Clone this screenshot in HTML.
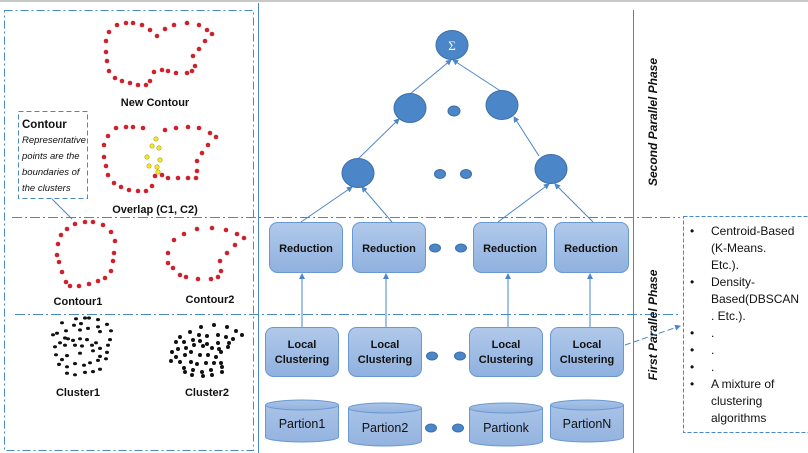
<!DOCTYPE html>
<html><head><meta charset="utf-8"><style>
html,body{margin:0;padding:0;background:#fff;}
svg{display:block;font-family:"Liberation Sans",sans-serif;}
.b{font-weight:bold;font-size:11px;fill:#111;}
.bx{fill:url(#g);stroke:#6a98d0;stroke-width:1;}
.cl{fill:url(#g2);stroke:#6a98d0;}
.c{fill:#4a86c8;stroke:#3c6fa8;stroke-width:1;}
.ln{stroke:#4a86c8;stroke-width:1;fill:none;}
.r{fill:#d0202a;}
.y{fill:#f1ea20;stroke:#a9a020;stroke-width:0.6;}
.k{fill:#111;}
.t{font-size:12.5px;fill:#111;}
</style></head><body>
<svg width="808" height="453" viewBox="0 0 808 453" xmlns="http://www.w3.org/2000/svg">
<defs>
<linearGradient id="g" x1="0" y1="0" x2="0" y2="1"><stop offset="0" stop-color="#b1c9ea"/><stop offset="1" stop-color="#8fb1df"/></linearGradient>
<linearGradient id="g2" x1="0" y1="0" x2="0" y2="1"><stop offset="0" stop-color="#a9c3e7"/><stop offset="1" stop-color="#93b3df"/></linearGradient>
<marker id="a" markerWidth="6" markerHeight="6" refX="5" refY="3" orient="auto" markerUnits="userSpaceOnUse"><path d="M0,0 L6,3 L0,6 z" fill="#4a86c8"/></marker>
</defs>
<line x1="0" y1="1" x2="808" y2="1" stroke="#c8c8c8" stroke-width="2"/>
<rect x="4.5" y="10.5" width="249" height="440" fill="none" stroke="#4a86c8" stroke-dasharray="8,3,2,3" stroke-width="1"/>
<line x1="258.5" y1="3" x2="258.5" y2="453" stroke="#4a86c8"/>
<line x1="633.5" y1="10" x2="633.5" y2="453" stroke="#4a86c8"/>
<line x1="12" y1="217.5" x2="680" y2="217.5" stroke="#4a86c8" stroke-dasharray="10,3,2,3"/>
<line x1="15" y1="314.5" x2="680" y2="314.5" stroke="#4a86c8" stroke-dasharray="10,3,2,3"/>

<g class="r">
<circle cx="117" cy="25" r="2.3"/><circle cx="126" cy="23" r="2.3"/><circle cx="133" cy="23" r="2.3"/><circle cx="142" cy="25" r="2.3"/><circle cx="150" cy="30" r="2.3"/><circle cx="157" cy="36" r="2.3"/><circle cx="165" cy="29" r="2.3"/><circle cx="174" cy="25" r="2.3"/><circle cx="187" cy="23" r="2.3"/><circle cx="199" cy="25" r="2.3"/><circle cx="207" cy="30" r="2.3"/><circle cx="212" cy="34" r="2.3"/><circle cx="205" cy="41" r="2.3"/><circle cx="199" cy="49" r="2.3"/><circle cx="193" cy="56" r="2.3"/><circle cx="195" cy="66" r="2.3"/><circle cx="192" cy="71" r="2.3"/><circle cx="187" cy="73" r="2.3"/><circle cx="176" cy="73" r="2.3"/><circle cx="168" cy="71" r="2.3"/><circle cx="162" cy="70" r="2.3"/><circle cx="154" cy="72" r="2.3"/><circle cx="150" cy="81" r="2.3"/><circle cx="146" cy="85" r="2.3"/><circle cx="138" cy="85" r="2.3"/><circle cx="130" cy="83" r="2.3"/><circle cx="122" cy="81" r="2.3"/><circle cx="115" cy="78" r="2.3"/><circle cx="109" cy="71" r="2.3"/><circle cx="107" cy="61" r="2.3"/><circle cx="106" cy="52" r="2.3"/><circle cx="106" cy="41" r="2.3"/><circle cx="109" cy="32" r="2.3"/>
</g>
<text x="155" y="106" text-anchor="middle" class="b">New Contour</text>
<g class="r">
<circle cx="116" cy="128" r="2.3"/><circle cx="126" cy="127" r="2.3"/><circle cx="133" cy="127" r="2.3"/><circle cx="143" cy="128" r="2.3"/><circle cx="108" cy="136" r="2.3"/><circle cx="104" cy="145" r="2.3"/><circle cx="104" cy="157" r="2.3"/><circle cx="106" cy="166" r="2.3"/><circle cx="108" cy="175" r="2.3"/><circle cx="114" cy="183" r="2.3"/><circle cx="121" cy="187" r="2.3"/><circle cx="129" cy="190" r="2.3"/><circle cx="138" cy="191" r="2.3"/><circle cx="146" cy="191" r="2.3"/><circle cx="152" cy="186" r="2.3"/><circle cx="165" cy="130" r="2.3"/><circle cx="176" cy="128" r="2.3"/><circle cx="188" cy="127" r="2.3"/><circle cx="199" cy="128" r="2.3"/><circle cx="210" cy="133" r="2.3"/><circle cx="216" cy="137" r="2.3"/><circle cx="208" cy="145" r="2.3"/><circle cx="202" cy="153" r="2.3"/><circle cx="197" cy="161" r="2.3"/><circle cx="197" cy="171" r="2.3"/><circle cx="196" cy="178" r="2.3"/><circle cx="188" cy="178" r="2.3"/><circle cx="178" cy="178" r="2.3"/><circle cx="168" cy="178" r="2.3"/><circle cx="162" cy="175" r="2.3"/><circle cx="155" cy="176" r="2.3"/>
</g>
<g class="y">
<circle cx="156" cy="139" r="2.2"/><circle cx="152" cy="146" r="2.2"/><circle cx="159" cy="148" r="2.2"/><circle cx="147" cy="157" r="2.2"/><circle cx="160" cy="160" r="2.2"/><circle cx="149" cy="166" r="2.2"/><circle cx="157" cy="167" r="2.2"/><circle cx="158" cy="172" r="2.2"/>
</g>
<text x="155" y="213" text-anchor="middle" class="b">Overlap (C1, C2)</text>
<rect x="18.5" y="111.5" width="69" height="87" fill="#fff" stroke="#4a86c8" stroke-dasharray="5,3"/>
<line x1="52" y1="199" x2="72" y2="219" stroke="#4a86c8"/>
<text x="22" y="128" class="b" style="font-size:11.5px">Contour</text>
<g style="font-size:9.5px;font-style:italic;fill:#111">
<text x="22" y="143">Representative</text>
<text x="22" y="159">points are the</text>
<text x="22" y="175">boundaries of</text>
<text x="22" y="191">the clusters</text>
</g>
<g class="r">
<circle cx="75" cy="224" r="2.3"/><circle cx="85" cy="222" r="2.3"/><circle cx="93" cy="222" r="2.3"/><circle cx="103" cy="225" r="2.3"/><circle cx="111" cy="232" r="2.3"/><circle cx="115" cy="241" r="2.3"/><circle cx="114" cy="253" r="2.3"/><circle cx="113" cy="261" r="2.3"/><circle cx="111" cy="271" r="2.3"/><circle cx="105" cy="278" r="2.3"/><circle cx="98" cy="281" r="2.3"/><circle cx="89" cy="284" r="2.3"/><circle cx="79" cy="286" r="2.3"/><circle cx="70" cy="286" r="2.3"/><circle cx="66" cy="282" r="2.3"/><circle cx="62" cy="272" r="2.3"/><circle cx="59" cy="262" r="2.3"/><circle cx="57" cy="255" r="2.3"/><circle cx="58" cy="244" r="2.3"/><circle cx="61" cy="235" r="2.3"/><circle cx="67" cy="229" r="2.3"/>
<circle cx="174" cy="240" r="2.3"/><circle cx="184" cy="234" r="2.3"/><circle cx="197" cy="229" r="2.3"/><circle cx="212" cy="228" r="2.3"/><circle cx="226" cy="230" r="2.3"/><circle cx="237" cy="234" r="2.3"/><circle cx="244" cy="238" r="2.3"/><circle cx="235" cy="245" r="2.3"/><circle cx="227" cy="253" r="2.3"/><circle cx="220" cy="261" r="2.3"/><circle cx="221" cy="271" r="2.3"/><circle cx="218" cy="277" r="2.3"/><circle cx="211" cy="279" r="2.3"/><circle cx="198" cy="279" r="2.3"/><circle cx="186" cy="277" r="2.3"/><circle cx="180" cy="275" r="2.3"/><circle cx="173" cy="268" r="2.3"/><circle cx="168" cy="263" r="2.3"/><circle cx="168" cy="253" r="2.3"/>
</g>
<text x="78" y="305" text-anchor="middle" class="b">Contour1</text>
<text x="210" y="303" text-anchor="middle" class="b">Contour2</text>
<g class="k" transform="matrix(1,0,0,0.8,0,62.8)">
<circle cx="76" cy="320" r="2"/><circle cx="85" cy="319" r="2"/><circle cx="89" cy="319" r="2"/><circle cx="98" cy="321" r="2"/><circle cx="62" cy="325" r="2"/><circle cx="74" cy="328" r="2"/><circle cx="81" cy="326" r="2"/><circle cx="98" cy="330" r="2"/><circle cx="107" cy="327" r="2"/><circle cx="57" cy="338" r="2"/><circle cx="66" cy="335" r="2"/><circle cx="80" cy="334" r="2"/><circle cx="88" cy="332" r="2"/><circle cx="100" cy="336" r="2"/><circle cx="111" cy="335" r="2"/><circle cx="53" cy="340" r="2"/><circle cx="65" cy="344" r="2"/><circle cx="73" cy="347" r="2"/><circle cx="80" cy="345" r="2"/><circle cx="60" cy="350" r="2"/><circle cx="68" cy="345" r="2"/><circle cx="87" cy="346" r="2"/><circle cx="96" cy="350" r="2"/><circle cx="110" cy="346" r="2"/><circle cx="55" cy="355" r="2"/><circle cx="65" cy="353" r="2"/><circle cx="75" cy="353" r="2"/><circle cx="82" cy="354" r="2"/><circle cx="92" cy="353" r="2"/><circle cx="100" cy="357" r="2"/><circle cx="108" cy="353" r="2"/><circle cx="56" cy="365" r="2"/><circle cx="67" cy="366" r="2"/><circle cx="80" cy="363" r="2"/><circle cx="93" cy="360" r="2"/><circle cx="100" cy="367" r="2"/><circle cx="107" cy="362" r="2"/><circle cx="59" cy="377" r="2"/><circle cx="67" cy="380" r="2"/><circle cx="75" cy="376" r="2"/><circle cx="84" cy="378" r="2"/><circle cx="90" cy="375" r="2"/><circle cx="98" cy="372" r="2"/><circle cx="106" cy="370" r="2"/><circle cx="62" cy="371" r="2"/><circle cx="67" cy="388" r="2"/><circle cx="75" cy="390" r="2"/><circle cx="85" cy="387" r="2"/><circle cx="93" cy="386" r="2"/><circle cx="100" cy="383" r="2"/>
</g>
<g class="k">
<circle cx="190" cy="332" r="2"/><circle cx="201" cy="327" r="2"/><circle cx="214" cy="325" r="2"/><circle cx="227" cy="327" r="2"/><circle cx="236" cy="331" r="2"/><circle cx="242" cy="335" r="2"/><circle cx="180" cy="337" r="2"/><circle cx="199" cy="335" r="2"/><circle cx="207" cy="336" r="2"/><circle cx="218" cy="335" r="2"/><circle cx="226" cy="337" r="2"/><circle cx="176" cy="342" r="2"/><circle cx="184" cy="342" r="2"/><circle cx="193" cy="340" r="2"/><circle cx="200" cy="341" r="2"/><circle cx="207" cy="344" r="2"/><circle cx="218" cy="343" r="2"/><circle cx="229" cy="343" r="2"/><circle cx="233" cy="339" r="2"/><circle cx="172" cy="352" r="2"/><circle cx="178" cy="349" r="2"/><circle cx="186" cy="348" r="2"/><circle cx="194" cy="345" r="2"/><circle cx="203" cy="346" r="2"/><circle cx="212" cy="348" r="2"/><circle cx="219" cy="349" r="2"/><circle cx="228" cy="347" r="2"/><circle cx="171" cy="361" r="2"/><circle cx="176" cy="357" r="2"/><circle cx="185" cy="355" r="2"/><circle cx="191" cy="352" r="2"/><circle cx="200" cy="355" r="2"/><circle cx="208" cy="355" r="2"/><circle cx="216" cy="357" r="2"/><circle cx="221" cy="352" r="2"/><circle cx="180" cy="362" r="2"/><circle cx="184" cy="368" r="2"/><circle cx="191" cy="362" r="2"/><circle cx="197" cy="364" r="2"/><circle cx="206" cy="363" r="2"/><circle cx="214" cy="363" r="2"/><circle cx="221" cy="363" r="2"/><circle cx="185" cy="372" r="2"/><circle cx="193" cy="370" r="2"/><circle cx="202" cy="372" r="2"/><circle cx="211" cy="370" r="2"/><circle cx="222" cy="367" r="2"/><circle cx="192" cy="375" r="2"/><circle cx="203" cy="376" r="2"/><circle cx="212" cy="375" r="2"/><circle cx="222" cy="372" r="2"/>
</g>
<text x="78" y="396" text-anchor="middle" class="b">Cluster1</text>
<text x="207" y="396" text-anchor="middle" class="b">Cluster2</text>

<g class="ln" marker-end="url(#a)">
<line x1="301" y1="222" x2="352" y2="187"/>
<line x1="392" y1="222" x2="362" y2="187"/>
<line x1="498" y1="222" x2="549" y2="184"/>
<line x1="593" y1="222" x2="555" y2="184"/>
<line x1="358" y1="159" x2="399" y2="119"/>
<line x1="539" y1="156" x2="514" y2="117"/>
<line x1="410" y1="94" x2="451" y2="60"/>
<line x1="502" y1="92" x2="453" y2="60"/>
<line x1="302" y1="327" x2="302" y2="274"/>
<line x1="386" y1="327" x2="386" y2="274"/>
<line x1="508" y1="327" x2="508" y2="274"/>
<line x1="590" y1="327" x2="590" y2="274"/>
</g>
<ellipse class="c" cx="452" cy="45" rx="16" ry="14.5"/>
<text x="452" y="50" text-anchor="middle" fill="#fff" font-size="13" font-family="Liberation Serif,serif">Σ</text>
<ellipse class="c" cx="410" cy="108" rx="16" ry="14.5"/>
<ellipse class="c" cx="502" cy="105" rx="16" ry="14.5"/>
<ellipse class="c" cx="454" cy="111" rx="6" ry="5"/>
<ellipse class="c" cx="358" cy="173" rx="16" ry="14.5"/>
<ellipse class="c" cx="551" cy="169" rx="16" ry="14.5"/>
<ellipse class="c" cx="440" cy="174" rx="5.5" ry="4.5"/>
<ellipse class="c" cx="466" cy="174" rx="5.5" ry="4.5"/>

<rect class="bx" x="269.5" y="222.5" width="73" height="50" rx="8"/>
<rect class="bx" x="352.5" y="222.5" width="73" height="50" rx="8"/>
<rect class="bx" x="473.5" y="222.5" width="73" height="50" rx="8"/>
<rect class="bx" x="554.5" y="222.5" width="74" height="50" rx="8"/>
<g class="b" text-anchor="middle"><text x="306" y="252">Reduction</text><text x="389" y="252">Reduction</text><text x="510" y="252">Reduction</text><text x="591" y="252">Reduction</text></g>
<ellipse class="c" cx="435" cy="248" rx="5.5" ry="4"/><ellipse class="c" cx="461" cy="248" rx="5.5" ry="4"/>
<rect class="bx" x="265.5" y="327.5" width="73" height="49" rx="8"/>
<rect class="bx" x="348.5" y="327.5" width="73" height="49" rx="8"/>
<rect class="bx" x="469.5" y="327.5" width="73" height="49" rx="8"/>
<rect class="bx" x="550.5" y="327.5" width="73" height="49" rx="8"/>
<g class="b" text-anchor="middle">
<text x="302" y="348">Local</text><text x="302" y="363">Clustering</text>
<text x="385" y="348">Local</text><text x="385" y="363">Clustering</text>
<text x="506" y="348">Local</text><text x="506" y="363">Clustering</text>
<text x="587" y="348">Local</text><text x="587" y="363">Clustering</text>
</g>
<ellipse class="c" cx="432" cy="356" rx="5.5" ry="4"/><ellipse class="c" cx="460" cy="356" rx="5.5" ry="4"/>
<g>
<path class="cl" d="M265.5,405 v32 a36.5,5 0 0 0 73,0 v-32"/><ellipse class="cl" cx="302" cy="405" rx="36.5" ry="5"/>
<path class="cl" d="M348.5,408 v33 a36.5,5 0 0 0 73,0 v-33"/><ellipse class="cl" cx="385" cy="408" rx="36.5" ry="5"/>
<path class="cl" d="M469.5,408 v33 a36.5,5 0 0 0 73,0 v-33"/><ellipse class="cl" cx="506" cy="408" rx="36.5" ry="5"/>
<path class="cl" d="M550.5,405 v32 a36.5,5 0 0 0 73,0 v-32"/><ellipse class="cl" cx="587" cy="405" rx="36.5" ry="5"/>
</g>
<g class="t" text-anchor="middle">
<text x="302" y="428">Partion1</text><text x="385" y="432">Partion2</text><text x="506" y="432">Partionk</text><text x="587" y="428">PartionN</text>
</g>
<ellipse class="c" cx="431" cy="428" rx="5.5" ry="4"/><ellipse class="c" cx="458" cy="428" rx="5.5" ry="4"/>

<text transform="translate(657,122) rotate(-90)" text-anchor="middle" class="b" style="font-style:italic;font-size:12px">Second Parallel Phase</text>
<text transform="translate(657,325) rotate(-90)" text-anchor="middle" class="b" style="font-style:italic;font-size:12px">First Parallel Phase</text>

<line x1="625" y1="345" x2="680" y2="326" stroke="#4a86c8" stroke-dasharray="6,3" marker-end="url(#a)"/>
<rect x="683.5" y="216.5" width="130" height="216" fill="#fff" stroke="#4a86c8" stroke-dasharray="4,2"/>
<g style="font-size:12px;fill:#111">
<text x="690" y="235">•</text><text x="711" y="235">Centroid-Based</text>
<text x="711" y="252">(K-Means.</text>
<text x="711" y="269">Etc.).</text>
<text x="690" y="286">•</text><text x="711" y="286">Density-</text>
<text x="711" y="303">Based(DBSCAN</text>
<text x="711" y="320">. Etc.).</text>
<text x="690" y="337">•</text><text x="711" y="337">.</text>
<text x="690" y="354">•</text><text x="711" y="354">.</text>
<text x="690" y="371">•</text><text x="711" y="371">.</text>
<text x="690" y="388">•</text><text x="711" y="388">A mixture of</text>
<text x="711" y="405">clustering</text>
<text x="711" y="422">algorithms</text>
</g>
</svg>
</body></html>
